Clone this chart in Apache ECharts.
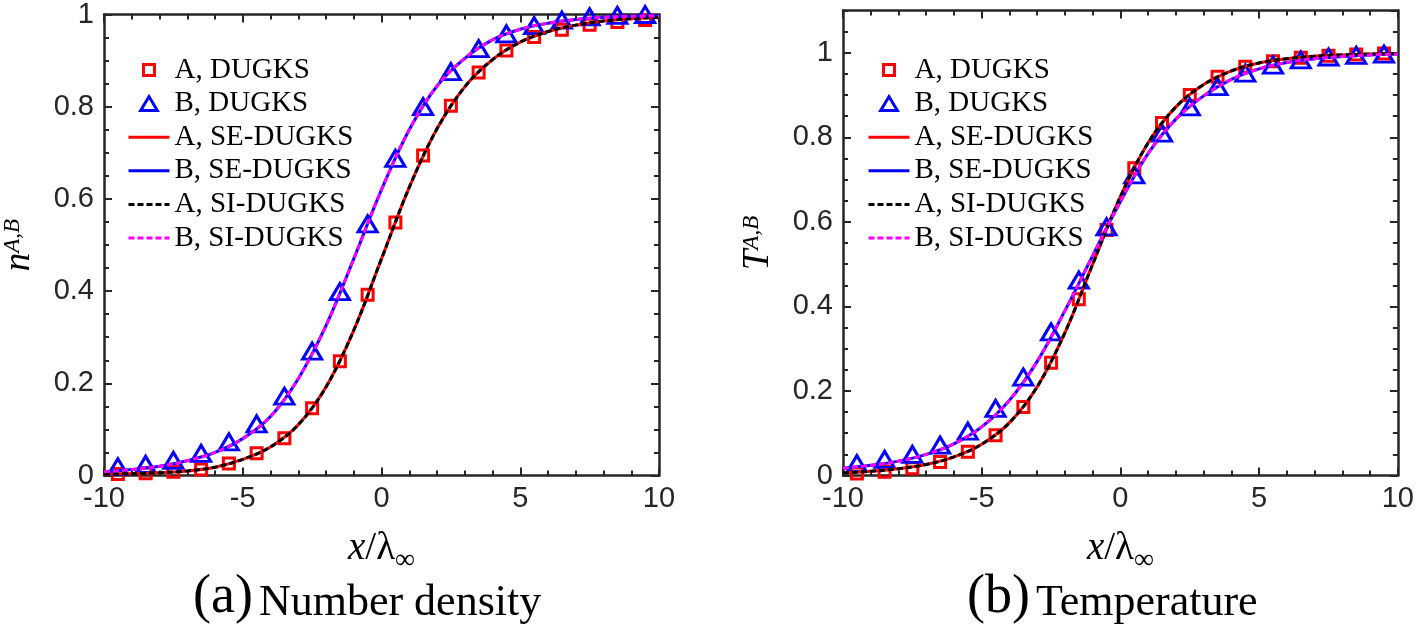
<!DOCTYPE html>
<html>
<head>
<meta charset="utf-8">
<script src="https://cdn.jsdelivr.net/npm/echarts@6/dist/echarts.min.js"></script>
<style>
html,body{margin:0;padding:0;background:#ffffff;}
#chart{width:1417px;height:632px;}
</style>
</head>
<body>
<div id="chart"></div>
<script>
// ---------- data ----------
const markerX = [-9.5,-8.5,-7.5,-6.5,-5.5,-4.5,-3.5,-2.5,-1.5,-0.5,0.5,1.5,2.5,3.5,4.5,5.5,6.5,7.5,8.5,9.5];
const curveX  = [-10,-9,-8,-7,-6,-5,-4,-3,-2,-1,0,1,2,3,4,5,6,7,8,9,10];
const xTicks = [-10,-5,0,5,10];

// (a) number density
const nA_DUGKS = [0.003,0.005,0.008,0.013,0.026,0.048,0.081,0.146,0.248,0.392,0.549,0.694,0.802,0.874,0.922,0.951,0.967,0.978,0.984,0.988];
const nB_DUGKS = [0.019,0.024,0.033,0.048,0.073,0.112,0.172,0.270,0.399,0.546,0.688,0.800,0.876,0.926,0.958,0.976,0.988,0.995,0.998,1.000];
const nA_SE = [0.003,0.004,0.006,0.010,0.018,0.035,0.062,0.110,0.192,0.315,0.470,0.625,0.752,0.843,0.902,0.940,0.963,0.977,0.986,0.991,0.994];
const nB_SE = [0.008,0.013,0.020,0.032,0.050,0.080,0.128,0.210,0.325,0.470,0.620,0.750,0.845,0.905,0.945,0.968,0.981,0.989,0.994,0.996,0.997];
const nA_SI = [0.003,0.004,0.006,0.010,0.018,0.035,0.062,0.110,0.192,0.315,0.470,0.625,0.752,0.843,0.902,0.940,0.963,0.977,0.986,0.991,0.994];
const nB_SI = [0.008,0.013,0.020,0.032,0.050,0.080,0.128,0.210,0.325,0.470,0.620,0.750,0.845,0.905,0.945,0.968,0.981,0.989,0.994,0.996,0.997];

// (b) temperature
const TA_DUGKS = [0.005,0.009,0.017,0.032,0.056,0.095,0.162,0.267,0.417,0.581,0.727,0.834,0.900,0.943,0.967,0.980,0.988,0.993,0.996,0.998];
const TB_DUGKS = [0.028,0.038,0.050,0.072,0.105,0.159,0.233,0.340,0.462,0.588,0.711,0.810,0.872,0.920,0.952,0.971,0.983,0.990,0.994,0.997];
const TA_SE = [0.006,0.010,0.016,0.026,0.044,0.074,0.125,0.210,0.338,0.500,0.660,0.787,0.872,0.925,0.957,0.976,0.986,0.992,0.995,0.997,0.998];
const TB_SE = [0.017,0.024,0.034,0.050,0.075,0.115,0.178,0.270,0.390,0.520,0.648,0.762,0.843,0.898,0.937,0.962,0.977,0.986,0.991,0.995,0.997];
const TA_SI = [0.006,0.010,0.016,0.026,0.044,0.074,0.125,0.210,0.338,0.500,0.660,0.787,0.872,0.925,0.957,0.976,0.986,0.992,0.995,0.997,0.998];
const TB_SI = [0.017,0.024,0.034,0.050,0.075,0.115,0.178,0.270,0.390,0.520,0.648,0.762,0.843,0.898,0.937,0.962,0.977,0.986,0.991,0.995,0.997];

const seriesNames = ['A, DUGKS','B, DUGKS','A, SE-DUGKS','B, SE-DUGKS','A, SI-DUGKS','B, SI-DUGKS'];
const captions = ['(a)','Number density','(b)','Temperature'];

// ---------- styling ----------
const AX = '#262626';
const SERIF = '"Liberation Serif","DejaVu Serif",serif';
const SANS = '"Liberation Sans",Arial,Helvetica,sans-serif';
const RED = '#ff0000', BLUE = '#0000ff', BLACK = '#000000', MAG = '#ff00ff';
const DASH = [6, 3];

const pairs = (xs, ys) => xs.map((x, i) => [x, ys[i]]);

function xAxisPair(grid) {
  const common = {
    gridIndex: grid, type: 'value', min: -10, max: 10, interval: 5,
    axisLine: {show: true, onZero: false, lineStyle: {color: AX, width: 2.5}},
    axisTick: {show: true, inside: true, length: 8, lineStyle: {color: AX, width: 2}},
    minorTick: {show: true, splitNumber: 5, length: 5, lineStyle: {color: AX, width: 2}},
    splitLine: {show: false}, minorSplitLine: {show: false}
  };
  return [
    Object.assign({}, common, {
      position: 'bottom',
      axisLabel: {show: true, margin: 9, fontSize: 29, fontFamily: SANS, color: AX,
        formatter: v => (xTicks.indexOf(v) >= 0 ? String(v) : '')},
      name: '{i|x}{r|/λ}{b|∞}', nameLocation: 'middle', nameGap: 54,
      nameTextStyle: {rich: {
        i: {fontFamily: SERIF, fontStyle: 'italic', fontSize: 39, color: '#000', verticalAlign: 'bottom'},
        r: {fontFamily: SERIF, fontSize: 39, color: '#000', verticalAlign: 'bottom'},
        b: {fontFamily: SERIF, fontSize: 28, color: '#000', verticalAlign: 'bottom', padding: [0,0,-6,0]}
      }}
    }),
    Object.assign({}, common, {position: 'top', axisLabel: {show: false}})
  ];
}

function yAxisSet(grid, max, letter) {
  const base = {
    gridIndex: grid, type: 'value', min: 0, max: max, interval: 0.2,
    axisLine: {show: true, onZero: false, lineStyle: {color: AX, width: 2.5}},
    axisTick: {show: true, inside: true, length: 8, lineStyle: {color: AX, width: 2}},
    splitLine: {show: false}, minorSplitLine: {show: false}
  };
  const nameStyle = {rich: {
    n: {fontFamily: SERIF, fontStyle: 'italic', fontSize: 37, color: '#000', verticalAlign: 'bottom'},
    s: {fontFamily: SERIF, fontStyle: 'italic', fontSize: 23, color: '#000', verticalAlign: 'top'}
  }};
  const exact = Math.abs(max - 1) < 1e-9;
  const axes = [];
  axes.push(Object.assign({}, base, {
    position: 'left',
    minorTick: {show: exact, splitNumber: 4, length: 5, lineStyle: {color: AX, width: 2}},
    axisLabel: {show: true, margin: 10, fontSize: 29, fontFamily: SANS, color: AX, showMaxLabel: exact,
      formatter: v => (Math.abs(v - 1) < 1e-9 ? '1' : (Math.abs(v) < 1e-9 ? '0' : String(+v.toFixed(1))))},
    name: '{n|' + letter + '}{s|A,B}', nameLocation: 'middle', nameGap: 66, nameRotate: 90,
    nameTextStyle: nameStyle
  }));
  axes.push(Object.assign({}, base, {
    position: 'right',
    minorTick: {show: exact, splitNumber: 4, length: 5, lineStyle: {color: AX, width: 2}},
    axisLabel: {show: false}
  }));
  if (!exact) {
    ['left', 'right'].forEach(p => axes.push({
      gridIndex: grid, type: 'value', min: 0, max: max, interval: 0.05, position: p,
      axisLine: {show: false, onZero: false},
      axisTick: {show: true, inside: true, length: 5, lineStyle: {color: AX, width: 2}},
      axisLabel: {show: false}, splitLine: {show: false}
    }));
  }
  return axes;
}

function plotSeries(xi, yi, mA, mB, aSE, bSE, aSI, bSI) {
  const scat = (name, data, sym, size, color) => ({
    name, type: 'scatter', xAxisIndex: xi, yAxisIndex: yi, data, symbol: sym, symbolSize: size,
    clip: false, itemStyle: {color: 'rgba(0,0,0,0)', borderColor: color, borderWidth: 3, opacity: 1}
  });
  const line = (name, data, color, dash) => ({
    name, type: 'line', xAxisIndex: xi, yAxisIndex: yi, data, smooth: 0.35, symbol: 'none', showSymbol: false,
    lineStyle: {color, width: 3, type: dash || 'solid'}, itemStyle: {color}
  });
  return [
    scat(seriesNames[0], pairs(markerX, mA), 'rect', 11, RED),
    scat(seriesNames[1], pairs(markerX, mB), 'triangle', [19, 16], BLUE),
    line(seriesNames[2], pairs(curveX, aSE), RED),
    line(seriesNames[3], pairs(curveX, bSE), BLUE),
    line(seriesNames[4], pairs(curveX, aSI), BLACK, DASH),
    line(seriesNames[5], pairs(curveX, bSI), MAG, DASH)
  ];
}

const SQ_ICON = 'path://M0,0M14,14M1.5,1.5L12.5,1.5L12.5,12.5L1.5,12.5Z';
const TRI_ICON = 'path://M0,16L9.5,0L19,16Z';

function legendAt(left) {
  return {
    orient: 'vertical', left: left, top: 55, padding: 0, itemGap: 3.6,
    itemWidth: 41, itemHeight: 14, selectedMode: false,
    textStyle: {fontFamily: SERIF, fontSize: 29, color: '#000', lineHeight: 30},
    data: [
      {name: seriesNames[0], icon: SQ_ICON, itemStyle: {color: 'rgba(0,0,0,0)', borderColor: RED, borderWidth: 3}},
      {name: seriesNames[1], icon: TRI_ICON, itemStyle: {color: 'rgba(0,0,0,0)', borderColor: BLUE, borderWidth: 3}},
      {name: seriesNames[2], itemStyle: {opacity: 0}, lineStyle: {width: 3}},
      {name: seriesNames[3], itemStyle: {opacity: 0}, lineStyle: {width: 3}},
      {name: seriesNames[4], itemStyle: {opacity: 0}, lineStyle: {width: 3}},
      {name: seriesNames[5], itemStyle: {opacity: 0}, lineStyle: {width: 3}}
    ]
  };
}

const capRich = {
  p: {fontFamily: SERIF, fontWeight: 'normal', fontSize: 54, color: '#000', verticalAlign: 'bottom'},
  t: {fontFamily: SERIF, fontWeight: 'normal', fontSize: 44, color: '#000', verticalAlign: 'bottom', padding: [0, 0, 0, 6]}
};

const yA = yAxisSet(0, 1, 'n');
const yB = yAxisSet(1, 1.1, 'T');

const option = {
  animation: false,
  backgroundColor: '#ffffff',
  title: [
    {text: '{p|' + captions[0] + '}{t|' + captions[1] + '}', left: 193, top: 571, padding: 0,
      textStyle: {fontWeight: 'normal', rich: capRich}},
    {text: '{p|' + captions[2] + '}{t|' + captions[3] + '}', left: 967, top: 571, padding: 0,
      textStyle: {fontWeight: 'normal', rich: capRich}}
  ],
  legend: [legendAt(127), legendAt(867)],
  grid: [
    {left: 101, right: 1417 - 659, top: 10.5, bottom: 632 - 475.5, containLabel: false},
    {left: 843, right: 1417 - 1399, top: 10.5, bottom: 632 - 475.5, containLabel: false}
  ],
  xAxis: [...xAxisPair(0), ...xAxisPair(1)],
  yAxis: [...yA, ...yB],
  series: [
    ...plotSeries(0, 0, nA_DUGKS, nB_DUGKS, nA_SE, nB_SE, nA_SI, nB_SI),
    ...plotSeries(2, 2, TA_DUGKS, TB_DUGKS, TA_SE, TB_SE, TA_SI, TB_SI)
  ]
};

const chart = echarts.init(document.getElementById('chart'), null, {renderer: 'canvas'});
chart.setOption(option);
</script>
</body>
</html>
